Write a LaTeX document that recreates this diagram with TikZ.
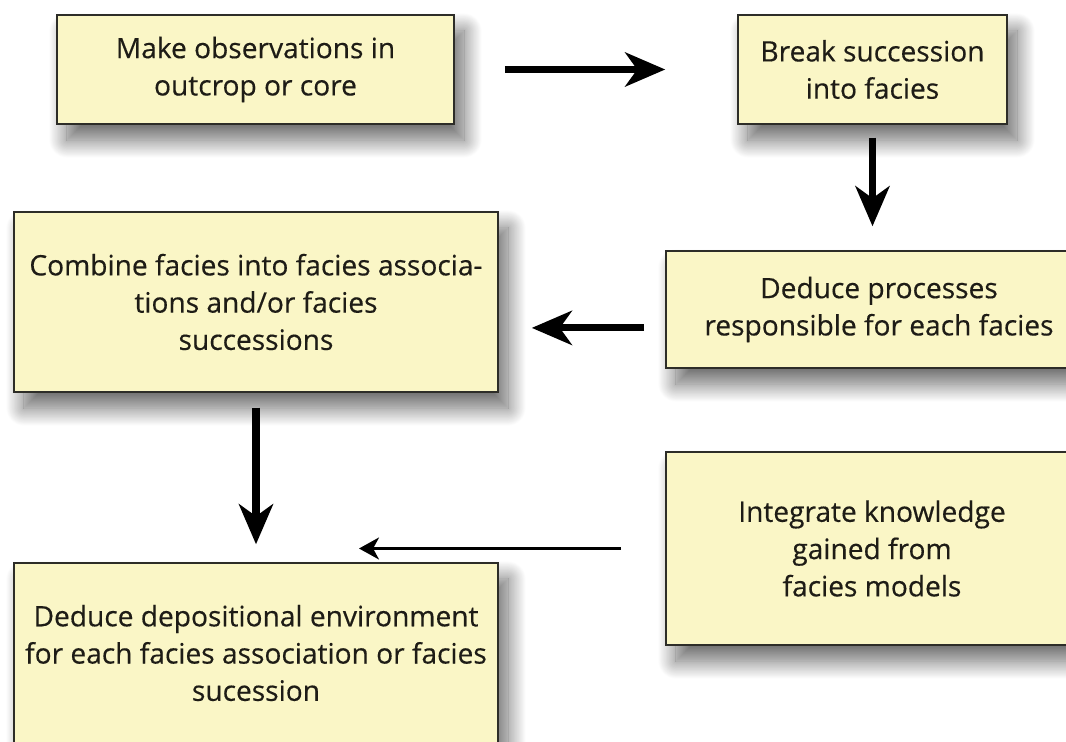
\documentclass[tikz,border=0pt]{standalone}
\usepackage{fontspec}
\setmainfont{Open Sans}
\newfontfamily\boxfont[FakeBold=0.4]{Open Sans}
\usetikzlibrary{arrows.meta,shadows.blur}
\definecolor{boxfill}{RGB}{250,246,198}
\definecolor{boxline}{RGB}{45,45,40}
\definecolor{boxtext}{RGB}{30,28,22}
\begin{document}
\begin{tikzpicture}[x=0.025cm, y=-0.025cm,
    box/.style = {rectangle,
        draw=boxline, line width=1pt,
        fill=boxfill,
        text=boxtext, align=center,
        font=\boxfont\fontsize{20}{26.5}\selectfont,
        inner sep=0pt,
        blur shadow={shadow xshift=0.25cm, shadow yshift=-0.4cm,
            shadow blur radius=0.45cm, shadow blur steps=30,
            shadow opacity=60}},
    arr/.style = {line width=5pt,
        -{Stealth[length=1cm, width=0.85cm, inset=0.3cm]}},
    thinarr/.style = {line width=2pt,
        -{Stealth[length=0.5cm, width=0.55cm, inset=0.15cm]}}]

\useasboundingbox (0,0) rectangle (1066,742);

% Observations
\node[box, minimum width=9.925cm, minimum height=2.725cm] (obs) at (255.5,69.5)
    {Make observations in\\outcrop or core};

% Facies
\node[box, minimum width=6.725cm, minimum height=2.725cm] (brk) at (872.5,69.5)
    {Break succession\\into facies};

% Associations
\node[box, minimum width=12.1cm, minimum height=4.5cm] (comb) at (256,302)
    {Combine facies into facies associa-\\tions and/or facies\\successions};

% Processes
\node[box, minimum width=10.65cm, minimum height=2.925cm] (proc) at (879,309.5)
    {Deduce processes\\responsible for each facies};

% Facies models
\node[box, minimum width=10.3cm, minimum height=4.825cm] (integ) at (872,548.5)
    {Integrate knowledge\\gained from\\facies models};

% Environment
\node[box, minimum width=12.1cm, minimum height=4.5cm] (env) at (256,653)
    {Deduce depositional environment\\for each facies association or facies\\sucession};

% Arrows
\draw[arr, shorten <=1.25cm, shorten >=1.8cm] (obs) -- (brk);
\draw[arr, shorten <=0.325cm, shorten >=0.6cm] (brk) -- (brk |- proc.north);
\draw[arr, shorten <=0.525cm, shorten >=0.825cm]
    ([yshift=-0.46cm]proc.west) -- ([yshift=-0.46cm]proc.west -| comb.east);
\draw[arr, shorten <=0.375cm, shorten >=0.45cm] (comb) -- (env);
\draw[thinarr, shorten <=1.1cm, shorten >=2.575cm] (integ.west) -- (integ.west -| comb.south);
\end{tikzpicture}
\end{document}
